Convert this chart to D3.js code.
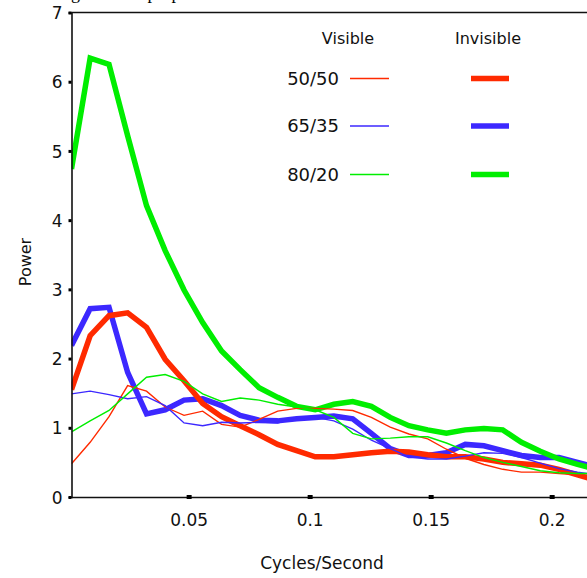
<!DOCTYPE html>
<html>
<head>
<meta charset="utf-8">
<script src="https://cdn.jsdelivr.net/npm/d3@7"></script>
<style>
  html, body { margin: 0; padding: 0; background: #fff; overflow: hidden; }
  svg { display: block; }
</style>
</head>
<body>
<script>
// ---- data ----
const freqs = [0.0016, 0.0093, 0.0171, 0.0248, 0.0326, 0.0403, 0.0481, 0.0558, 0.0636, 0.0713,
               0.0791, 0.0868, 0.0946, 0.1023, 0.1100, 0.1178, 0.1255, 0.1333, 0.1410, 0.1488,
               0.1565, 0.1643, 0.1720, 0.1798, 0.1875, 0.1953, 0.2030, 0.2107, 0.2185];

const vis5050 = [0.48, 0.79, 1.16, 1.61, 1.53, 1.30, 1.18, 1.24, 1.05, 1.01, 1.12, 1.24, 1.28, 1.28, 1.27,
                 1.25, 1.15, 1.01, 0.91, 0.84, 0.69, 0.56, 0.47, 0.40, 0.36, 0.36, 0.34, 0.32, 0.31];
const vis6535 = [1.49, 1.53, 1.48, 1.42, 1.45, 1.32, 1.07, 1.03, 1.08, 1.07, 1.08, 1.07, 1.15, 1.15, 1.10,
                 0.98, 0.82, 0.70, 0.58, 0.55, 0.55, 0.59, 0.64, 0.63, 0.57, 0.49, 0.41, 0.36, 0.32];
const vis8020 = [0.94, 1.10, 1.25, 1.49, 1.73, 1.77, 1.67, 1.49, 1.38, 1.43, 1.40, 1.34, 1.30, 1.26, 1.15,
                 0.92, 0.84, 0.85, 0.87, 0.87, 0.78, 0.67, 0.57, 0.50, 0.44, 0.38, 0.35, 0.34, 0.34];
const inv5050 = [1.55, 2.33, 2.62, 2.66, 2.45, 1.99, 1.68, 1.35, 1.16, 1.03, 0.90, 0.76, 0.67, 0.58, 0.58,
                 0.61, 0.64, 0.66, 0.65, 0.61, 0.58, 0.58, 0.55, 0.50, 0.48, 0.46, 0.40, 0.32, 0.24];
const inv6535 = [2.19, 2.72, 2.74, 1.80, 1.20, 1.26, 1.40, 1.42, 1.32, 1.18, 1.11, 1.10, 1.13, 1.15, 1.17,
                 1.13, 0.92, 0.70, 0.60, 0.60, 0.64, 0.76, 0.74, 0.67, 0.60, 0.57, 0.57, 0.50, 0.43];
const inv8020 = [4.74, 6.34, 6.25, 5.22, 4.21, 3.56, 2.99, 2.52, 2.11, 1.84, 1.58, 1.44, 1.31, 1.26, 1.34,
                 1.38, 1.31, 1.15, 1.03, 0.97, 0.92, 0.97, 0.99, 0.97, 0.79, 0.66, 0.55, 0.47, 0.40];

const ratios = ["50/50", "65/35", "80/20"];
const groups = ["Visible", "Invisible"];
const xTicks = [0.05, 0.1, 0.15, 0.2];
const xTickLabels = ["0.05", "0.1", "0.15", "0.2"];
const yTicks = [0, 1, 2, 3, 4, 5, 6, 7];
const xTitle = "Cycles/Second";
const yTitle = "Power";
const titleText = "Increasing both the proportion of visible and invisible stimuli in the three test blocks compared";

// ---- styles ----
const colors = { "50/50": "#ff2a00", "65/35": "#3c28ff", "80/20": "#00ee00" };
const thinW = 1.4, thickW = 5.5;
const font = "'DejaVu Sans', sans-serif";

const W = 587, H = 578;
const svg = d3.select("body").append("svg").attr("width", W).attr("height", H);

const x = d3.scaleLinear().domain([0.0016, 0.2146]).range([71.5, 587]);
const y = d3.scaleLinear().domain([0, 7]).range([497, 12.5]);

// title (mostly clipped at the top edge, as in the reference)
const t = svg.append("text")
  .attr("x", 0).attr("y", -1)
  .attr("font-family", "'Liberation Serif', 'Times New Roman', serif")
  .attr("font-size", 18).attr("fill", "#000")
  .text(titleText);
try {
  const gi = titleText.indexOf("g");
  const p = t.node().getStartPositionOfChar(gi);
  t.attr("x", 71 - p.x);
} catch (e) {}

// clip
svg.append("clipPath").attr("id", "plotclip").append("rect")
  .attr("x", x.range()[0]).attr("y", y(7)).attr("width", W - x.range()[0]).attr("height", y(0) - y(7));

const seriesList = [
  { key: "65/35", type: "Invisible", vals: inv6535 },
  { key: "50/50", type: "Invisible", vals: inv5050 },
  { key: "80/20", type: "Invisible", vals: inv8020 },
  { key: "50/50", type: "Visible", vals: vis5050 },
  { key: "65/35", type: "Visible", vals: vis6535 },
  { key: "80/20", type: "Visible", vals: vis8020 },
];

const line = d3.line().x((d, i) => x(freqs[i])).y(d => y(d));
const plot = svg.append("g").attr("clip-path", "url(#plotclip)");
plot.selectAll("path.series").data(seriesList).join("path")
  .attr("class", "series")
  .attr("d", d => line(d.vals))
  .attr("fill", "none")
  .attr("stroke", d => colors[d.key])
  .attr("stroke-width", d => d.type === "Visible" ? thinW : thickW)
  .attr("stroke-linejoin", "miter");

// axes
const axisColor = "#111";
svg.append("line").attr("x1", x.range()[0]).attr("x2", W).attr("y1", y(7)).attr("y2", y(7))
  .attr("stroke", axisColor).attr("stroke-width", 1.6);

const yAxis = svg.append("g").attr("transform", `translate(${x.range()[0]},0)`)
  .call(d3.axisLeft(y).tickValues(yTicks).tickSize(3).tickPadding(6).tickFormat(d3.format("d")));
yAxis.select(".domain").attr("stroke", axisColor).attr("stroke-width", 1.6);
yAxis.selectAll(".tick line").attr("stroke", "#000").attr("stroke-width", 3);
yAxis.selectAll(".tick text").attr("font-family", font).attr("font-size", 17).attr("fill", "#111").attr("dy", "0.36em");

const xAxis = svg.append("g").attr("transform", `translate(0,${y(0)})`)
  .call(d3.axisBottom(x).tickValues(xTicks).tickSize(0).tickPadding(17)
    .tickFormat((d, i) => xTickLabels[i]));
xAxis.select(".domain").attr("stroke", axisColor).attr("stroke-width", 1.6);
xAxis.selectAll(".tick text").attr("font-family", font).attr("font-size", 17).attr("fill", "#111");
xAxis.selectAll(".tick").append("line").attr("y1", -2).attr("y2", 2)
  .attr("stroke", "#000").attr("stroke-width", 5);

// axis titles
svg.append("text").attr("x", 322).attr("y", 569).attr("text-anchor", "middle")
  .attr("font-family", font).attr("font-size", 17).attr("fill", "#111").text(xTitle);
svg.append("text").attr("transform", "translate(31,262) rotate(-90)").attr("text-anchor", "middle")
  .attr("font-family", font).attr("font-size", 16).attr("fill", "#111").text(yTitle);

// legend
const legend = svg.append("g");
const colX = { "Visible": 348, "Invisible": 488 };
const sampleX = { "Visible": [350, 389], "Invisible": [471, 509] };
groups.forEach(g => {
  legend.append("text").attr("x", colX[g]).attr("y", 44).attr("text-anchor", "middle")
    .attr("font-family", font).attr("font-size", 16).attr("fill", "#111").text(g);
});
const rowY = [78.5, 126, 174.5];
ratios.forEach((r, i) => {
  legend.append("text").attr("x", 339).attr("y", rowY[i] + 6).attr("text-anchor", "end")
    .attr("font-family", font).attr("font-size", 18).attr("fill", "#111").text(r);
  groups.forEach(g => {
    legend.append("line").attr("x1", sampleX[g][0]).attr("x2", sampleX[g][1])
      .attr("y1", rowY[i]).attr("y2", rowY[i])
      .attr("stroke", colors[r]).attr("stroke-width", g === "Visible" ? thinW : thickW);
  });
});
</script>
</body>
</html>
